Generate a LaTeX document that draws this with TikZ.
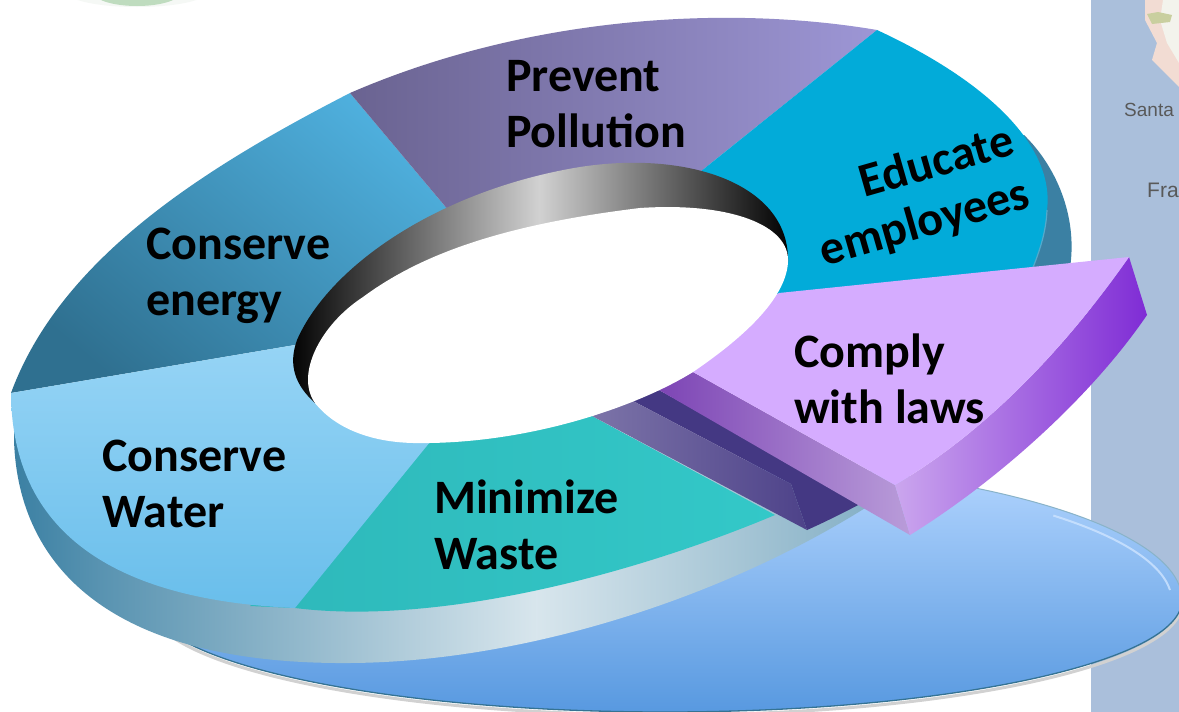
\documentclass[tikz,border=0pt]{standalone}
\usepackage{fontspec}
\setmainfont{Carlito}[BoldFont=Carlito Bold]
\newfontfamily\mapfont{Liberation Sans}
\usetikzlibrary{positioning}
\usetikzlibrary{calc}

\definecolor{mapsea}{HTML}{AABFDB}
\definecolor{mapland}{HTML}{F2DCD3}
\definecolor{mapwhite}{HTML}{F3F3EC}
\definecolor{mapgreen}{HTML}{C9CF9F}
\definecolor{ringdark}{HTML}{3B80A3}
\definecolor{educate}{HTML}{02ABD9}
\definecolor{compface}{HTML}{D5ACFF}
\definecolor{wallpurple}{HTML}{443883}

% The path fills the middle of the shading, from 25bp to 75bp
\pgfdeclarehorizontalshading{rimshade}{100bp}{
	color(0bp)=(ringdark);
	color(25bp)=(ringdark);
	color(30bp)=(ringdark!85!white);
	color(36bp)=(ringdark!70!white);
	color(43bp)=(ringdark!52!white);
	color(55.5bp)=(ringdark!20!white);
	color(75bp)=(ringdark!62!white);
	color(100bp)=(ringdark!62!white)
}

\tikzset{
	wedgetext/.style={font=\fontsize{48}{56}\selectfont\bfseries, text=black, align=left, inner sep=0pt, anchor=west},
	maptext/.style={text=black!65, inner sep=0pt, anchor=west},
	wedge/.style={draw=none},
}

\begin{document}
\begin{tikzpicture}[x=1pt,y=-1pt]
	
	\useasboundingbox (0,0) rectangle (1179,712);
	\clip (0,0) rectangle (1179,712);
	\fill[white] (0,0) rectangle (1179,712);
	
	% Corners of the wedges on the ring
	% T2 and R2 lie under the inner wall
	\coordinate (L1) at (11,393);
	\coordinate (L2) at (295,345);
	\coordinate (T1) at (350,93);
	\coordinate (T2) at (470,236);
	\coordinate (R1) at (877,30);
	\coordinate (R2) at (680,188);
	\coordinate (R3) at (1032,270);
	\coordinate (R4) at (779,295);
	\coordinate (B1) at (295,608);
	\coordinate (B2) at (430,442);
	\coordinate (B3) at (775,515);
	\coordinate (B4) at (592,416);
	
	% Corners of the slice that is pulled out
	\coordinate (C1) at (779,293);
	\coordinate (C2) at (1129,257);
	\coordinate (C3) at (1147,315);
	\coordinate (C4) at (910,535);
	\coordinate (C5) at (895,485);
	\coordinate (C6) at (693,372);
	\coordinate (C7) at (659,390);
	
	% Corners of the cut wall
	\coordinate (D1) at (633,401);
	\coordinate (D2) at (791,484);
	\coordinate (D3) at (807,530);
	\coordinate (D4) at (862,503);
	
	%%%%%%%%%%%%%%%%%%%%%%%%%%%%%%%%%%%%%%%%%%%%%%%%%%%%%%%%%%%%%%
	% Map behind the diagram
	\fill[mapsea] (1091,0) rectangle (1179,712);
	\fill[mapland] (1145,0) -- (1145,20) -- (1157,43) -- (1152,60) -- (1179,87) -- (1179,0) -- cycle;
	\fill[mapwhite] (1163,0) -- (1160,20) -- (1167,43) -- (1179,63) -- (1179,0) -- cycle;
	\fill[mapgreen] (1147,14) -- (1158,12) -- (1172,15) -- (1170,22) -- (1152,24) -- cycle;
	\node[maptext, font=\mapfont\fontsize{19}{19}\selectfont] (santa) at (1124,110) {Santa};
	\node[maptext, font=\mapfont\fontsize{21}{21}\selectfont] (fra) at (1147,190) {Fra};
	
	% Green patch at the top edge
	\fill[green!30!black!4] (137,-8) ellipse (70 and 15);
	\fill[green!45!black!25] (137,-8) ellipse (44 and 14);
	
	% Blue disc: flatter below than above
	\definecolor{disctop}{HTML}{B4D6FF}
	\definecolor{discbottom}{HTML}{5899E0}
	\draw[black!18, line width=3pt] (1182,603) arc[start angle=0, end angle=180, x radius=517, y radius=112];
	\shade[top color=disctop, bottom color=discbottom]
		(1182,600) arc[start angle=0, end angle=180, x radius=517, y radius=112]
		arc[start angle=180, end angle=360, x radius=517, y radius=140] -- cycle;
	\draw[disctop!65!white, line width=2pt, opacity=0.8] (1170,590) arc[start angle=355, end angle=320, x radius=507, y radius=134];
	\draw[ringdark!90!black, line width=1.3pt] (1182,600) arc[start angle=0, end angle=180, x radius=517, y radius=112];
	\draw[ringdark!60!white, line width=1pt] (1182,600) arc[start angle=360, end angle=290, x radius=517, y radius=140];
	
	% Outer wall of the ring
	\fill[ringdark] (990,150) -- (1024,135) .. controls (1055,165) and (1078,215) .. (1070,268) -- (1000,272) -- cycle;
	\shade[shading=rimshade] (14,430) -- (14,440) .. controls (18,570) and (115,665) .. (350,663)
		.. controls (520,662) and (720,600) .. (870,505) -- (500,400) -- cycle;
	
	% Wedges
	\definecolor{energytop}{HTML}{4FB0DE}
	\definecolor{energybottom}{HTML}{2F7090}
	\definecolor{preventleft}{HTML}{6A6391}
	\definecolor{preventright}{HTML}{9D96D5}
	\definecolor{watertop}{HTML}{96D4F5}
	\definecolor{waterbottom}{HTML}{69BEEB}
	\definecolor{wasteleft}{HTML}{2EB8BA}
	\definecolor{wasteright}{HTML}{33C8C8}
	\shade[wedge, bottom color=energybottom, top color=energytop, shading angle=-40]
		(L1) .. controls (60,260) and (200,170) .. (T1) -- (T2) -- (L2) -- cycle;
	\shade[wedge, left color=preventleft, right color=preventright]
		(T1) .. controls (530,15) and (730,5) .. (R1) -- (R2) -- (T2) -- cycle;
	\fill[wedge, educate] (R1) .. controls (985,80) and (1055,145) .. (1047,210)
		.. controls (1046,232) and (1040,250) .. (R3) -- (R4) -- (700,240) -- (R2) -- cycle;
	\draw[cyan!50!teal!80, line width=1.2pt] (1047,210) .. controls (1046,232) and (1040,250) .. (R3);
	\shade[wedge, left color=wasteleft, right color=wasteright]
		(B2) -- (B4) -- (B3) .. controls (620,580) and (430,625) .. (B1) -- (250,606) -- cycle;
	\shade[wedge, top color=watertop, bottom color=waterbottom]
		(L1) -- (L2) -- (340,400) -- (B2) -- (B1) .. controls (110,600) and (12,530) .. (L1) -- cycle;
	
	% Cut wall under the wedges
	\fill[wallpurple] (D1) -- (C7) -- (D4) .. controls (845,512) and (825,522) .. (D3) -- (D2) -- cycle;
	\shade[left color=wallpurple!70!white, right color=wallpurple!95!white] (B4) -- (D1) -- (D2) -- (D3) -- cycle;
	
	% Slice that is pulled out
	\definecolor{sideleft}{HTML}{CBA6EE}
	\definecolor{sideright}{HTML}{7F2CD5}
	\definecolor{facetleft}{HTML}{7D45B5}
	\definecolor{facetright}{HTML}{B99CD9}
	\shade[left color=facetleft, right color=facetright] (C7) -- (C6) -- (C5) -- (C4) -- cycle;
	\shade[left color=sideleft, right color=sideright]
		(C2) -- (C3) .. controls (1089,400) and (994,483) .. (C4) -- (C5)
		.. controls (994,427) and (1073,337) .. (C2) -- cycle;
	\fill[compface] (C1) -- (C2) .. controls (1073,337) and (994,427) .. (C5) -- (C6) -- (700,340) -- cycle;
	
	% Inner wall and the hole
	\shade[left color=black, right color=black, middle color=black!18]
		(315,403) .. controls (295,385) and (288,365) .. (297,340)
		.. controls (330,265) and (440,190) .. (580,167)
		.. controls (690,150) and (790,185) .. (788,262) -- cycle;
	\fill[white] (315,403) .. controls (295,375) and (320,325) .. (363,297)
		.. controls (420,255) and (500,225) .. (640,208)
		.. controls (730,202) and (790,225) .. (788,262)
		.. controls (786,300) and (740,340) .. (C6)
		.. controls (640,405) and (530,445) .. (413,443)
		.. controls (370,442) and (335,428) .. (315,403) -- cycle;
	
	% Labels
	\node[wedgetext] (prevent) at (506,104) {Prevent\\Pollution};
	\node[wedgetext] (energy) at (146,276) {Conserve\\energy};
	\node[wedgetext] (water) at (102,484) {Conserve\\Water};
	\node[wedgetext] (waste) at (434,525) {Minimize\\Waste};
	\node[wedgetext] (laws) at (794,379) {Comply\\with laws};
	\node[wedgetext, anchor=center, rotate=16] (educatetext) at (936,160) {Educate};
	\node[wedgetext, anchor=center, rotate=16] (employees) at (925,224) {employees};
	
\end{tikzpicture}
\end{document}
